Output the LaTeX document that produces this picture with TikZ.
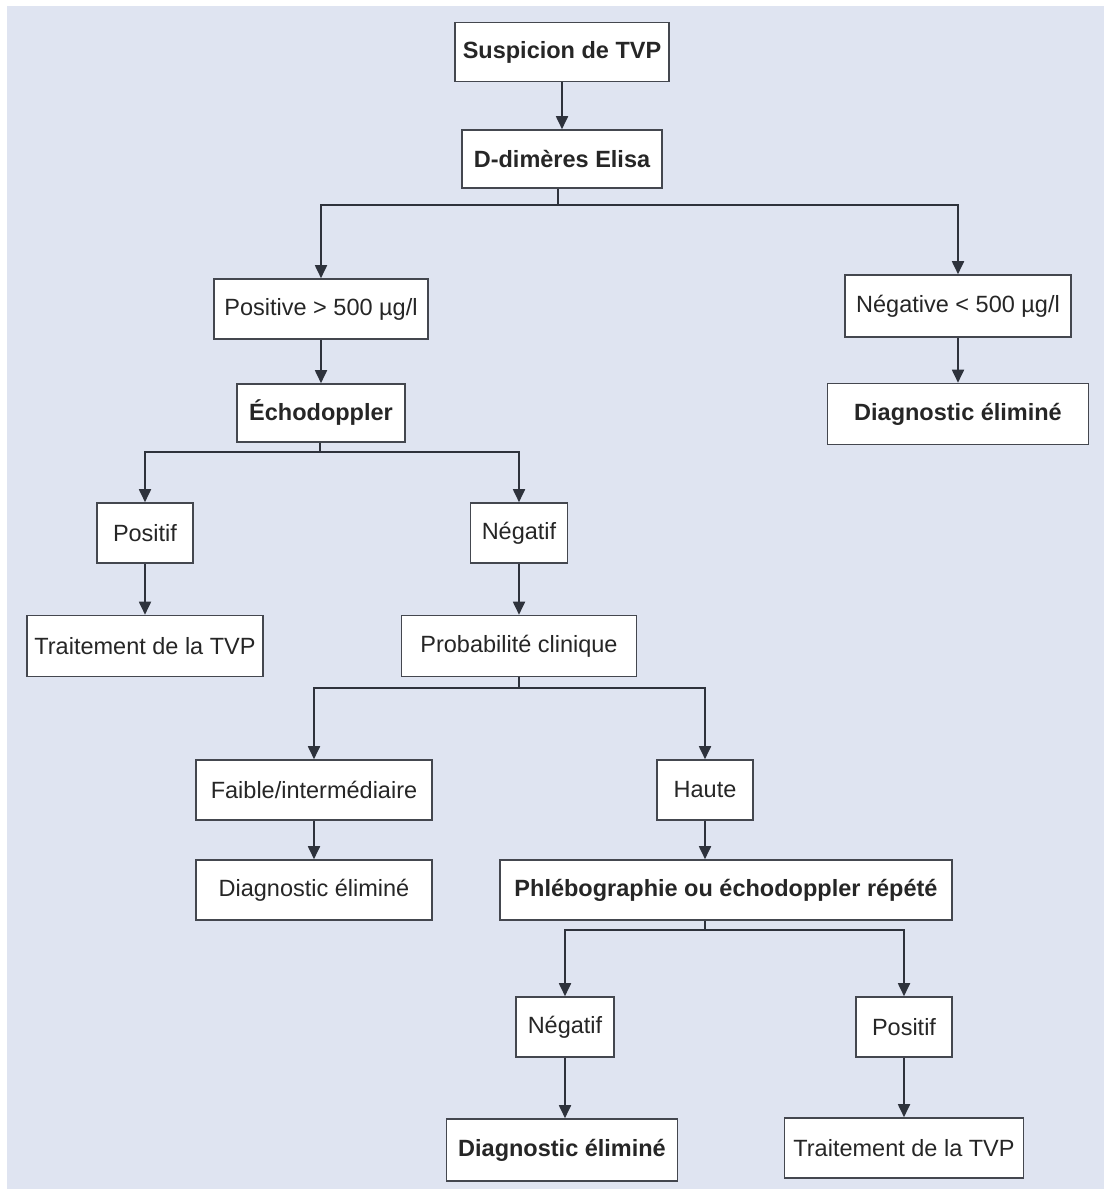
\documentclass[tikz,border=0pt]{standalone}
\usepackage{fontspec}
\setmainfont{Liberation Sans}
\usepackage{xcolor}
\usetikzlibrary{arrows.meta,positioning,calc}

\definecolor{bgblue}{HTML}{DFE4F1}
\definecolor{linegray}{HTML}{2E323C}
\definecolor{boxgray}{HTML}{44474F}
\definecolor{textgray}{HTML}{262626}

\begin{document}
\begin{tikzpicture}[x=1pt, y=-1pt,
    box/.style={draw=boxgray, line width=1.6pt, fill=white, text=textgray,
        minimum height=60pt, inner sep=0pt, font=\fontsize{23.5}{27}\selectfont},
    boldbox/.style={box, font=\fontsize{23.5}{27}\selectfont\bfseries},
    link/.style={draw=linegray, line width=1.8pt},
    arr/.style={link, -{Triangle[width=12pt,length=13pt]}}
]
    % page and background
    \useasboundingbox (0,0) rectangle (1104,1189);
    \fill[white] (0,0) rectangle (1104,1189);
    \fill[bgblue] (7,6) rectangle (1104,1189);

    % boxes
    \node[boldbox, minimum width=214pt, minimum height=59pt] (sus) at (562,52) {Suspicion de TVP};
    \node[boldbox, minimum width=200pt, minimum height=58pt] (ddim) at (562,159) {D-dimères Elisa};
    \node[box, minimum width=214pt] (dpos) at (321,309) {Positive > 500 µg/l};
    \node[box, minimum width=226pt, minimum height=62pt] (dneg) at (958,306) {Négative < 500 µg/l};
    \node[boldbox, minimum width=168pt, minimum height=58pt] (echo) at (321,413) {Échodoppler};
    \node[boldbox, minimum width=261pt, minimum height=61pt] (elimA) at (958,414) {Diagnostic éliminé};
    \node[box, minimum width=96pt] (echopos) at (145,533) {Positif};
    \node[box, minimum width=97pt] (echoneg) at (519,533) {Négatif};
    \node[box, minimum width=236pt, minimum height=61pt] (traitA) at (145,646) {Traitement de la TVP};
    \node[box, minimum width=235pt, minimum height=61pt] (proba) at (519,646) {Probabilité clinique};
    \node[box, minimum width=236pt] (faible) at (314,790) {Faible/intermédiaire};
    \node[box, minimum width=96pt] (haute) at (705,790) {Haute};
    \node[box, minimum width=236pt] (elimB) at (314,890) {Diagnostic éliminé};
    \node[boldbox, minimum width=452pt] (phlebo) at (726,890) {Phlébographie ou échodoppler répété};
    \node[box, minimum width=98pt] (phlneg) at (565,1027) {Négatif};
    \node[box, minimum width=96pt] (phlpos) at (904,1027) {Positif};
    \node[boldbox, minimum width=231pt, minimum height=62pt] (elimC) at (562,1150) {Diagnostic éliminé};
    \node[box, minimum width=239pt] (traitB) at (904,1148) {Traitement de la TVP};

    % junctions
    \coordinate (jdim) at (558,205);
    \coordinate (jecho) at (320,452);
    \coordinate (jproba) at (519,688);
    \coordinate (jphl) at (705,930);

    % straight arrows
    \draw[arr] (sus) -- (ddim);
    \draw[arr] (dpos) -- (echo);
    \draw[arr] (dneg) -- (elimA);
    \draw[arr] (echopos) -- (traitA);
    \draw[arr] (echoneg) -- (proba);
    \draw[arr] (faible) -- (elimB);
    \draw[arr] (haute.south) -- (haute.south |- phlebo.north);
    \draw[arr] (phlneg.south) -- (phlneg.south |- elimC.north);
    \draw[arr] (phlpos) -- (traitB);

    % branches
    \draw[link] (jdim |- ddim.south) -- (jdim);
    \draw[arr] (jdim) -| (dpos.north);
    \draw[arr] (jdim) -| (dneg.north);
    \draw[link] (jecho |- echo.south) -- (jecho);
    \draw[arr] (jecho) -| (echopos.north);
    \draw[arr] (jecho) -| (echoneg.north);
    \draw[link] (proba.south) -- (jproba);
    \draw[arr] (jproba) -| (faible.north);
    \draw[arr] (jproba) -| (haute.north);
    \draw[link] (jphl |- phlebo.south) -- (jphl);
    \draw[arr] (jphl) -| (phlneg.north);
    \draw[arr] (jphl) -| (phlpos.north);
\end{tikzpicture}
\end{document}
